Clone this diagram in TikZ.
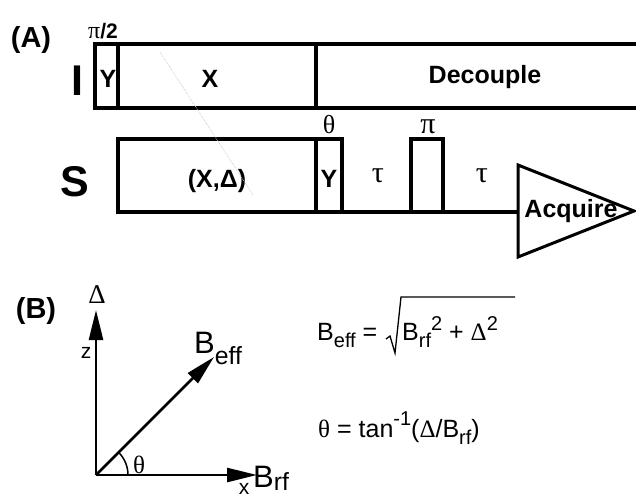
\documentclass[tikz,border=0pt]{standalone}
\usepackage{fontspec}
\usepackage{graphicx}
\setmainfont{Liberation Sans}
\newfontfamily\grk{Liberation Serif}
\usetikzlibrary{arrows.meta}
\newcommand{\lo}[2][0.3em]{\raisebox{-#1}{\scalebox{0.8}{#2}}}
\newcommand{\hi}[2][0.38em]{\raisebox{#1}{\scalebox{0.8}{#2}}}

\begin{document}
\begin{tikzpicture}[
    x=1pt, y=-1pt,
    pulse/.style={line width=4pt, line join=miter},
    lbl/.style={font=\fontsize{25}{30}\selectfont\bfseries, inner sep=0pt, anchor=base},
    chan/.style={font=\fontsize{43}{48}\selectfont\bfseries, inner sep=0pt},
    tag/.style={font=\fontsize{29}{34}\selectfont\bfseries, inner sep=0pt},
    greek/.style={font=\fontsize{#1}{#1}\selectfont\grk, inner sep=0pt, anchor=base},
    greek/.default=24,
    vec/.style={line width=2.5pt, -{Triangle[length=30pt, width=14pt]}},
    eq/.style={font=\fontsize{25}{30}\selectfont, inner sep=0pt, anchor=base west},
    ax/.style={font=\fontsize{21}{24}\selectfont, inner sep=0pt, anchor=base},
  ]
  \useasboundingbox (0,0) rectangle (636,498);

  % (A) pulse sequence
  \node[tag]  (tagA) at (31,40)  {(A)};
  \node[chan] (chI)  at (77,81)  {I};
  \node[chan] (chS)  at (75,182) {S};

  % I channel
  \draw[pulse] (640,44) -- (95,44) -- (95,108) -- (640,108);
  \draw[pulse] (118,44) -- (118,108);
  \draw[pulse] (316,44) -- (316,108);
  \node[anchor=base, inner sep=0pt] (p2) at (103,38)
    {{\grk\fontsize{24}{24}\selectfont π}{\fontsize{21}{22}\selectfont\bfseries/2}};
  \node[lbl] (yI)  at (108,87) {Y};
  \node[lbl] (xI)  at (210,87) {X};
  \node[lbl] (dec) at (485,83) {Decouple};

  % S channel
  \draw[pulse] (518,212) -- (118,212) -- (118,139) -- (342,139) -- (342,212);
  \draw[pulse] (316,139) -- (316,212);
  \draw[pulse] (411,212) -- (411,139) -- (443,139) -- (443,212);
  \draw[line width=3pt, line join=miter] (518,165) -- (634,211) -- (518,257) -- cycle;
  \node[lbl] (xd)  at (217,187) {(X,Δ)};
  \node[lbl] (yS)  at (329,187) {Y};
  \node[lbl] (acq) at (571,217) {Acquire};
  \node[greek=26] (th) at (329,133) {θ};
  \node[greek=30] (pi) at (428,133) {π};
  \node[greek=30] (t1) at (378,182) {τ};
  \node[greek=30] (t2) at (482,182) {τ};

  % faint trace
  \coordinate (fa) at (160,52);
  \coordinate (fb) at (253,195);
  \draw[gray!45, line width=0.7pt, densely dotted] (fa) -- (fb);

  % (B) effective field
  \node[tag] (tagB) at (36,311) {(B)};
  \coordinate (o)  at (96,475);
  \coordinate (zt) at (96,310);
  \coordinate (xt) at (257,475);
  \coordinate (bt) at (214,357);
  \draw[vec] (o) -- (zt);
  \draw[vec] (o) -- (xt);
  \draw[vec] (o) -- (bt);
  \draw[line width=1.5pt] (o) ++(32,0) arc[start angle=0, end angle=45, radius=32pt];

  \node[greek=27] (dl) at (97,303) {Δ};
  \node[ax] (zl) at (86,358) {z};
  \node[ax] (xl) at (244,494) {x};
  \node[greek=25] (tha) at (139,473) {θ};
  \node[anchor=base west, inner sep=0pt, font=\fontsize{31}{34}\selectfont]
    (brf) at (253,487) {B\lo[0.12em]{rf}};
  \node[anchor=base west, inner sep=0pt, font=\fontsize{31}{34}\selectfont]
    (beff) at (194,353) {B\lo[0.38em]{eff}};

  % equations
  \node[eq] (eq1) at (317,340) {B\lo{eff} =};
  \node[eq] (eq1r) at (402,340) {B\lo{rf}\hi{2} + {\grk Δ}\hi{2}};
  \draw[line width=1.3pt] (eq1r.base west) ++(-16,-1) -- ++(4,-3) -- ++(5,17)
    -- ++(6,-56) -- ++(114,0);
  \node[eq] (eq2) at (318,437)
    {{\grk θ} = tan\hi[0.45em]{-1}({\grk Δ}/B\lo{rf})};
\end{tikzpicture}
\end{document}
